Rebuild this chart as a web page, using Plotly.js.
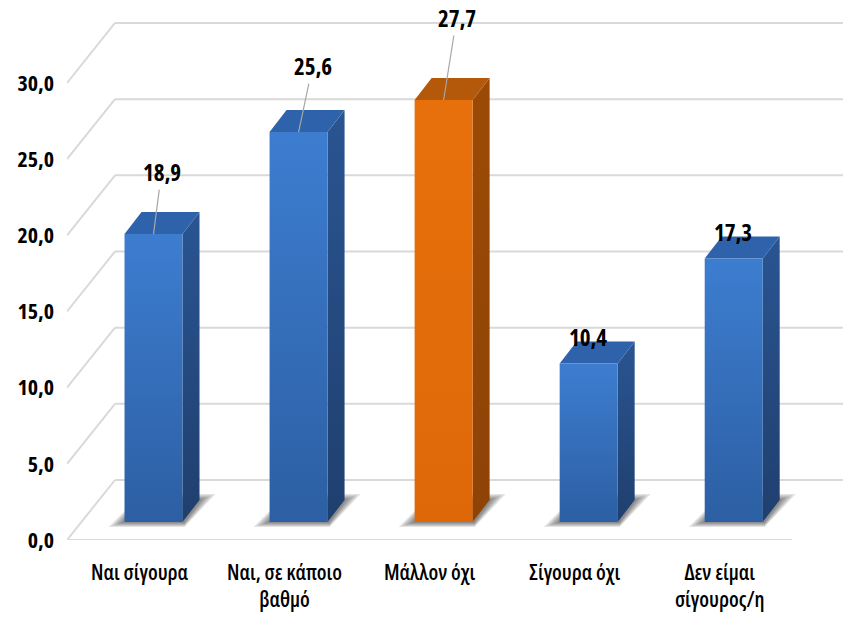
<!DOCTYPE html>
<html>
<head>
<meta charset="utf-8">
<script src="https://cdn.plot.ly/plotly-3.0.1.min.js"></script>
<style>
  html, body { margin: 0; padding: 0; background: #ffffff; }
  #chart { width: 850px; height: 625px; }
  /* condensed cut of the variable Open Sans face */
  #chart svg text { font-stretch: 75%; }
</style>
</head>
<body>
<div id="chart"></div>
<script>
// Survey answers and their shares (%)
const categories = [
  'Ναι σίγουρα',
  'Ναι, σε κάποιο<br>βαθμό',
  'Μάλλον όχι',
  'Σίγουρα όχι',
  'Δεν είμαι<br>σίγουρος/η'
];
const values = [18.9, 25.6, 27.7, 10.4, 17.3];
const yTicks = [0, 5, 10, 15, 20, 25, 30];

// ---- look & geometry of the pseudo-3D scene (pixels) ----
const FONT = "'Open Sans', sans-serif";
const margin = { l: 67, r: 7, t: 19, b: 85 };
const W = 850, H = 625;
const plotW = W - margin.l - margin.r;
const plotH = H - margin.t - margin.b;
const xRange = [-0.5, 4.85];
const yRange = [0, 34.2];
const pxX = plotW / (xRange[1] - xRange[0]);   // pixels per category unit
const pxY = plotH / (yRange[1] - yRange[0]);   // pixels per percent

const wallDX = 48 / pxX, wallDY = 60 / pxY;       // depth of floor / side wall
const barShiftX = 14 / pxX, barBase = 18 / pxY;   // bar front face inside the floor
const barW = 58 / pxX;
const depthDX = 17 / pxX, depthDY = 22 / pxY;     // bar depth
const gridColor = '#d9d9d9';

const colors = {
  blue:   { frontTop: '#3d7dd0', frontBottom: '#2c5fa3', sideTop: '#2a5592', sideBottom: '#1f3f6e', top: '#2e63ac' },
  orange: { frontTop: '#e8700c', frontBottom: '#de6808', sideTop: '#9c4a06', sideBottom: '#8e4305', top: '#b45809' }
};
const highlight = 2; // the "Μάλλον όχι" bar is drawn in orange
const palette = values.map((_, i) => (i === highlight ? colors.orange : colors.blue));

// value label offsets from the bar top (pixels) and whether a leader line is drawn
const labelOffset = [[8, -62], [14, -66], [13, -82], [-1, -27], [-1, -26]];
const labelLeader = [true, true, true, false, false];

const xs = values.map((_, i) => i);

// ---- gridlines: left wall diagonals + back wall horizontals + floor front ----
const shapes = [];
const backRight = 4.5 + wallDX + 4 / pxX;
yTicks.forEach(v => {
  shapes.push({
    type: 'line', xref: 'x', yref: 'y', layer: 'below',
    x0: xRange[0], y0: v, x1: xRange[0] + wallDX, y1: v + wallDY,
    line: { color: gridColor, width: 2 }
  });
  shapes.push({
    type: 'line', xref: 'x', yref: 'y', layer: 'below',
    x0: xRange[0] + wallDX, y0: v + wallDY, x1: backRight, y1: v + wallDY,
    line: { color: gridColor, width: 2 }
  });
});
shapes.push({
  type: 'line', xref: 'x', yref: 'y', layer: 'below',
  x0: xRange[0], y0: 0, x1: 4.5, y1: 0,
  line: { color: gridColor, width: 2 }
});

// soft floor shadows under every bar: stacked translucent footprints
function poly(pts) {
  return 'M' + pts.map(p => p[0] + ',' + p[1]).join(' L') + ' Z';
}
const shadowSteps = [1.0, 0.8, 0.6, 0.4, 0.2];
xs.forEach(i => {
  const L = i + barShiftX - barW / 2, R = L + barW;
  shadowSteps.forEach(g => {
    const yFront = barBase - 5 * g / pxY;
    const yBack = barBase + depthDY + 6 * g / pxY;
    shapes.push({
      type: 'path', xref: 'x', yref: 'y', layer: 'below',
      path: poly([
        [L - 16 * g / pxX, yFront],
        [R + 2 / pxX, yFront],
        [R + depthDX + 16 * g / pxX, yBack],
        [L + depthDX, yBack]
      ]),
      fillcolor: 'rgba(0,0,0,0.11)',
      line: { width: 0 }
    });
  });
});

// ---- traces: each bar is a front, side and top face ----
const traces = [];
xs.forEach(i => {
  const v = values[i];
  const L = i + barShiftX - barW / 2, R = L + barW;
  const yb = barBase, yt = barBase + v;
  const p = palette[i];
  traces.push({
    type: 'scatter', mode: 'lines', fill: 'toself',
    x: [R, R, R + depthDX, R + depthDX, R],
    y: [yb, yt, yt + depthDY, yb + depthDY, yb],
    fillcolor: p.sideTop,
    fillgradient: { type: 'vertical', colorscale: [[0, p.sideBottom], [1, p.sideTop]] },
    line: { width: 0 }, hoverinfo: 'skip'
  });
  traces.push({
    type: 'scatter', mode: 'lines', fill: 'toself',
    x: [L, R, R + depthDX, L + depthDX, L],
    y: [yt, yt, yt + depthDY, yt + depthDY, yt],
    fillcolor: p.top, line: { width: 0 }, hoverinfo: 'skip'
  });
  traces.push({
    type: 'scatter', mode: 'lines', fill: 'toself',
    x: [L, R, R, L, L],
    y: [yb, yb, yt, yt, yb],
    fillcolor: p.frontTop,
    fillgradient: { type: 'vertical', colorscale: [[0, p.frontBottom], [1, p.frontTop]] },
    line: { width: 0 }, hoverinfo: 'skip'
  });
});

// value labels
const annotations = xs.map(i => ({
  x: i + barShiftX, y: barBase + values[i], xref: 'x', yref: 'y',
  text: values[i].toFixed(1).replace('.', ','),
  showarrow: true, arrowhead: 0, arrowwidth: 1.2,
  arrowcolor: labelLeader[i] ? '#a6a6a6' : 'rgba(0,0,0,0)',
  ax: labelOffset[i][0], ay: labelOffset[i][1],
  font: { family: FONT, size: 23, color: '#000000', weight: 700 }
}));

const layout = {
  width: W, height: H,
  margin: margin,
  paper_bgcolor: '#ffffff', plot_bgcolor: '#ffffff',
  showlegend: false,
  hovermode: false,
  separators: ', ',
  xaxis: {
    range: xRange, showgrid: false, zeroline: false, showline: false,
    tickvals: xs, ticktext: categories, ticks: '',
    ticklabelstandoff: 18,
    tickfont: { family: FONT, size: 21, color: '#000000', weight: 600 },
    fixedrange: true
  },
  yaxis: {
    range: yRange, showgrid: false, zeroline: false, showline: false,
    tickvals: yTicks, tickformat: '.1f', ticks: '',
    ticklabelstandoff: 12,
    tickfont: { family: FONT, size: 22, color: '#000000', weight: 700 },
    fixedrange: true
  },
  shapes: shapes,
  annotations: annotations
};

Plotly.newPlot('chart', traces, layout, { displayModeBar: false, staticPlot: true });
</script>
</body>
</html>
